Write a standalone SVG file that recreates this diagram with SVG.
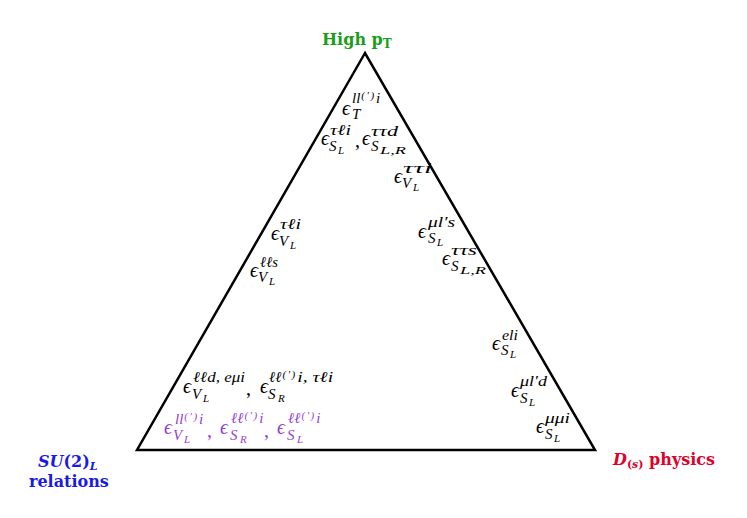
<svg xmlns="http://www.w3.org/2000/svg" width="747" height="518" viewBox="0 0 747 518">
<style>
.m{font-family:"Liberation Serif","DejaVu Serif",serif;font-style:italic;fill:#000}
.e{font-size:20px}
.s{font-size:15px}
.ss{font-size:11px}
.pr{font-size:11px;letter-spacing:1.5px}
.pu{fill:#9440d4}
.n{font-style:normal}
.lab{font-family:"DejaVu Serif","Liberation Serif",serif;font-weight:bold;font-size:16px}
</style>
<rect width="747" height="518" fill="#fff"/>
<g id="triangle"><polygon points="365,53 137,450 595,450" fill="none" stroke="#000" stroke-width="2.5" stroke-linejoin="miter"/></g>
<g id="high-pt"><text class="lab" x="322" y="45" fill="#1a9e1a">High p<tspan font-size="12" dy="3">T</tspan></text></g>
<g id="su2"><text class="lab" x="38" y="467" fill="#1a1ae6" font-style="italic">SU<tspan font-style="normal">(2)</tspan><tspan font-size="11" dy="3">L</tspan></text><text class="lab" x="29" y="487" fill="#1a1ae6">relations</text></g>
<g id="ds"><text class="lab" x="613" y="465" fill="#e0002a"><tspan font-style="italic">D</tspan><tspan font-size="11" dy="3">(<tspan font-style="italic">s</tspan>)</tspan><tspan dy="-3"> physics</tspan></text></g>
<g id="n1"><text class="m"><tspan class="e" x="342" y="115">ϵ</tspan><tspan class="s" x="352" y="103">ll</tspan><tspan class="pr" dx="1" dy="-4">(′)</tspan><tspan class="s" dx="0.5" dy="4">i</tspan><tspan class="s" x="352" y="119">T</tspan></text></g>
<g id="n2"><text class="m"><tspan class="e" x="321" y="145">ϵ</tspan><tspan class="s" x="330" y="135" textLength="21" lengthAdjust="spacingAndGlyphs">τℓi</tspan><tspan class="s" x="329" y="151">S</tspan><tspan class="ss" x="338" y="154">L</tspan><tspan class="e n" x="355" y="147">,</tspan><tspan class="e" x="362" y="145">ϵ</tspan><tspan class="s" x="371" y="136" textLength="27" lengthAdjust="spacingAndGlyphs">ττd</tspan><tspan class="s" x="371" y="151">S</tspan><tspan class="ss" x="380" y="154" textLength="26" lengthAdjust="spacingAndGlyphs">L,R</tspan></text></g>
<g id="n3"><text class="m"><tspan class="e" x="394" y="183">ϵ</tspan><tspan class="s" x="403" y="173" textLength="29" lengthAdjust="spacingAndGlyphs">ττi</tspan><tspan class="s" x="402" y="188">V</tspan><tspan class="ss" x="413" y="191">L</tspan></text></g>
<g id="n4"><text class="m"><tspan class="e" x="418" y="238">ϵ</tspan><tspan class="s" x="428" y="227" textLength="27" lengthAdjust="spacingAndGlyphs">μl′s</tspan><tspan class="s" x="428" y="243">S</tspan><tspan class="ss" x="437" y="246">L</tspan></text></g>
<g id="n5"><text class="m"><tspan class="e" x="442" y="265">ϵ</tspan><tspan class="s" x="451" y="255" textLength="26" lengthAdjust="spacingAndGlyphs">ττs</tspan><tspan class="s" x="451" y="271">S</tspan><tspan class="ss" x="460" y="274" textLength="26" lengthAdjust="spacingAndGlyphs">L,R</tspan></text></g>
<g id="n6"><text class="m"><tspan class="e" x="271" y="240">ϵ</tspan><tspan class="s" x="280" y="229" textLength="21" lengthAdjust="spacingAndGlyphs">τℓi</tspan><tspan class="s" x="279" y="246">V</tspan><tspan class="ss" x="290" y="249">L</tspan></text></g>
<g id="n7"><text class="m"><tspan class="e" x="250" y="277">ϵ</tspan><tspan class="s" x="260" y="267" textLength="18" lengthAdjust="spacingAndGlyphs">ℓℓs</tspan><tspan class="s" x="258" y="282">V</tspan><tspan class="ss" x="269" y="285">L</tspan></text></g>
<g id="n8"><text class="m"><tspan class="e" x="492" y="350">ϵ</tspan><tspan class="s" x="502" y="340" textLength="16" lengthAdjust="spacingAndGlyphs">eli</tspan><tspan class="s" x="501" y="355">S</tspan><tspan class="ss" x="510" y="358">L</tspan></text></g>
<g id="n9"><text class="m"><tspan class="e" x="511" y="397">ϵ</tspan><tspan class="s" x="520" y="386" textLength="27" lengthAdjust="spacingAndGlyphs">μl′d</tspan><tspan class="s" x="520" y="403">S</tspan><tspan class="ss" x="529" y="406">L</tspan></text></g>
<g id="n10"><text class="m"><tspan class="e" x="536" y="433">ϵ</tspan><tspan class="s" x="545" y="423" textLength="25" lengthAdjust="spacingAndGlyphs">μμi</tspan><tspan class="s" x="545" y="439">S</tspan><tspan class="ss" x="554" y="442">L</tspan></text></g>
<g id="n11"><text class="m"><tspan class="e" x="183" y="393">ϵ</tspan><tspan class="s" x="193" y="382" textLength="52" lengthAdjust="spacingAndGlyphs">ℓℓd, eμi</tspan><tspan class="s" x="192" y="399">V</tspan><tspan class="ss" x="203" y="402">L</tspan><tspan class="e n" x="246" y="395">,</tspan><tspan class="e" x="260" y="393">ϵ</tspan><tspan class="s" x="269" y="382">ℓℓ</tspan><tspan class="pr" dx="1" dy="-4">(′)</tspan><tspan class="s" dx="0.5" dy="4" textLength="36" lengthAdjust="spacingAndGlyphs">i, τℓi</tspan><tspan class="s" x="268" y="399">S</tspan><tspan class="ss" x="278" y="402">R</tspan></text></g>
<g id="n12"><text class="m pu"><tspan class="e" x="164" y="434">ϵ</tspan><tspan class="s" x="175" y="424">ll</tspan><tspan class="pr" dx="1" dy="-4">(′)</tspan><tspan class="s" dx="0.5" dy="4">i</tspan><tspan class="s" x="173" y="440">V</tspan><tspan class="ss" x="184" y="443">L</tspan><tspan class="e n" x="207" y="437">,</tspan><tspan class="e" x="220" y="434">ϵ</tspan><tspan class="s" x="231" y="423">ℓℓ</tspan><tspan class="pr" dx="1" dy="-4">(′)</tspan><tspan class="s" dx="0.5" dy="4">i</tspan><tspan class="s" x="230" y="440">S</tspan><tspan class="ss" x="240" y="443">R</tspan><tspan class="e n" x="264" y="437">,</tspan><tspan class="e" x="277" y="434">ϵ</tspan><tspan class="s" x="288" y="423">ℓℓ</tspan><tspan class="pr" dx="1" dy="-4">(′)</tspan><tspan class="s" dx="0.5" dy="4">i</tspan><tspan class="s" x="287" y="440">S</tspan><tspan class="ss" x="297" y="443">L</tspan></text></g>
</svg>
